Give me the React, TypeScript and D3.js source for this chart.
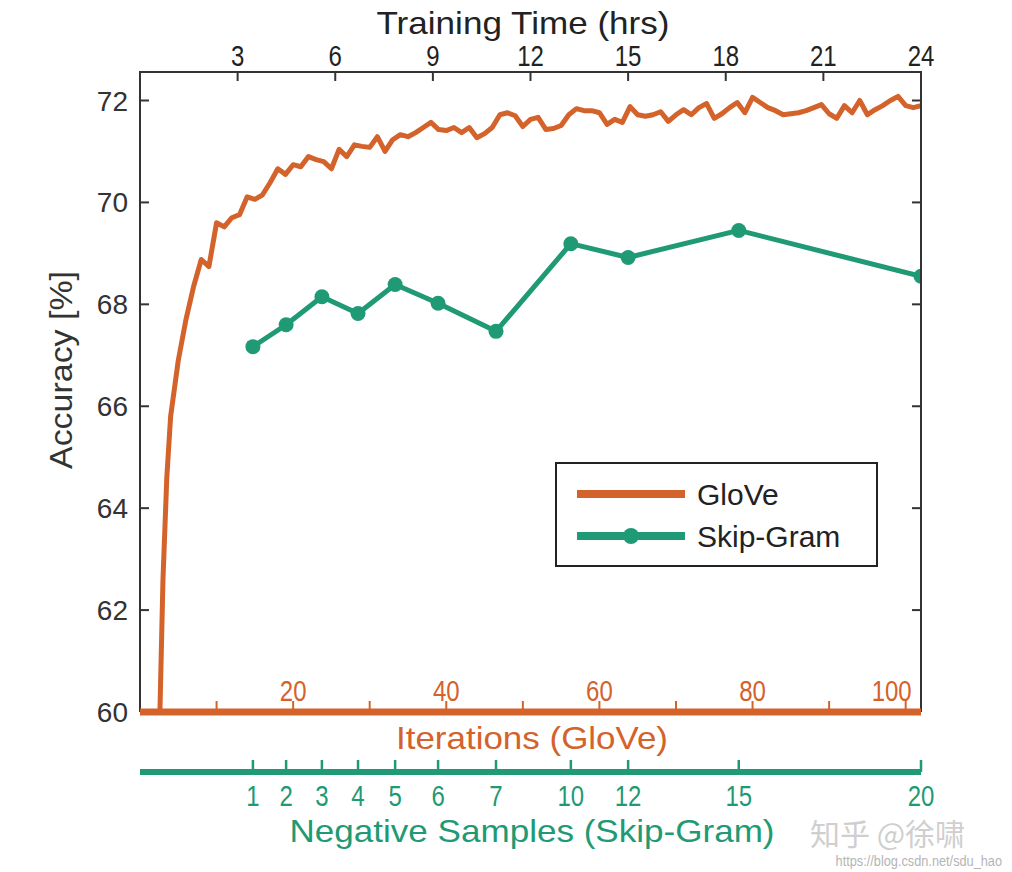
import React from "react";
import * as d3 from "d3";

// ---- data ----
const yTicks = [60, 62, 64, 66, 68, 70, 72];
const hourTicks = [3, 6, 9, 12, 15, 18, 21, 24];
const iterLabelTicks = [20, 40, 60, 80, 100];
const iterMinorTicks = [10, 20, 30, 40, 50, 60, 70, 80, 90, 100];

const gloveIter = [2.6, 2.8, 3, 3.5, 4,
  5, 6, 7, 8, 9, 10, 11, 12, 13, 14, 15, 16, 17, 18, 19, 20,
  21, 22, 23, 24, 25, 26, 27, 28, 29, 30, 31, 32, 33, 34, 35, 36, 37, 38, 39, 40,
  41, 42, 43, 44, 45, 46, 47, 48, 49, 50, 51, 52, 53, 54, 55, 56, 57, 58, 59, 60,
  61, 62, 63, 64, 65, 66, 67, 68, 69, 70, 71, 72, 73, 74, 75, 76, 77, 78, 79, 80,
  81, 82, 83, 84, 85, 86, 87, 88, 89, 90, 91, 92, 93, 94, 95, 96, 97, 98, 99, 100,
  101, 102];
const gloveAcc = [60, 61.3, 62.6, 64.6, 65.8,
  66.9, 67.7, 68.35, 68.88, 68.74, 69.6, 69.52, 69.7, 69.76, 70.11, 70.06, 70.15, 70.39, 70.66, 70.55, 70.74,
  70.7, 70.9, 70.84, 70.8, 70.66, 71.04, 70.9, 71.13, 71.1, 71.08, 71.29, 71.0, 71.23, 71.33, 71.29, 71.37, 71.47, 71.57, 71.43, 71.41,
  71.47, 71.37, 71.47, 71.27, 71.35, 71.47, 71.72, 71.76, 71.7, 71.49, 71.63, 71.67, 71.43, 71.45, 71.51, 71.72, 71.84, 71.8, 71.8, 71.76,
  71.53, 71.63, 71.57, 71.88, 71.72, 71.69, 71.72, 71.78, 71.59, 71.72, 71.82, 71.72, 71.86, 71.94, 71.65, 71.74, 71.86, 71.96, 71.76, 72.06,
  71.96, 71.86, 71.8, 71.72, 71.74, 71.76, 71.8, 71.86, 71.92, 71.74, 71.65, 71.9, 71.76, 72.0, 71.72, 71.82, 71.9, 72.0, 72.08, 71.9,
  71.86, 71.9];

const skipNeg = [1, 2, 3, 4, 5, 6, 7, 10, 12, 15, 20];
const skipHours = [3.47, 4.49, 5.59, 6.7, 7.84, 9.16, 10.94, 13.24, 15.0, 18.4, 24.0];
const skipAcc = [67.17, 67.6, 68.15, 67.82, 68.39, 68.02, 67.47, 69.19, 68.92, 69.45, 68.55];

const ORANGE = "#D4622B";
const TEAL = "#1F9A75";
const SANS = "'Liberation Sans', Arial, sans-serif";

function Narrow({ x, y, size, fill, anchor = "middle", sx = 0.8, children }: any) {
  return (
    <g transform={`translate(${x},${y}) scale(${sx},1)`}>
      <text x={0} y={0} fontFamily={SANS} fontSize={size} fill={fill} textAnchor={anchor}>
        {children}
      </text>
    </g>
  );
}

export default function App() {
  const L = 140, R = 921, T = 72, B = 712;
  const xHrs = d3.scaleLinear().domain([0, 24]).range([L, R]);
  const xIter = d3.scaleLinear().domain([0, 102]).range([L, R]);
  const y = d3.scaleLinear().domain([60, 72]).range([B, 100.5]);

  const glove = gloveIter.map((it, i) => ({ x: xIter(it), y: y(gloveAcc[i]) }));
  const skip = skipHours.map((h, i) => ({ x: xHrs(h), y: y(skipAcc[i]), n: skipNeg[i] }));
  const line = d3.line<{ x: number; y: number }>().x((d) => d.x).y((d) => d.y);

  const teal_y = 772;

  return (
    <svg width={1012} height={872} style={{ position: "absolute", left: 0, top: 0, background: "#fff" }}>
      <defs>
        <clipPath id="plotclip">
          <rect x={L} y={T} width={R - L} height={B - T + 4} />
        </clipPath>
      </defs>

      {/* top title */}
      <text x={523} y={34} fontFamily={SANS} fontSize={32} fill="#222" textAnchor="middle" textLength={293} lengthAdjust="spacingAndGlyphs">
        Training Time (hrs)
      </text>
      {hourTicks.map((h) => (
        <Narrow key={"ht" + h} x={xHrs(h)} y={66} size={30} fill="#222">{h}</Narrow>
      ))}

      {/* y axis labels */}
      {yTicks.map((t) => (
        <text key={"yt" + t} x={128} y={y(t) + 10} fontFamily={SANS} fontSize={28} fill="#333" textAnchor="end">
          {t}
        </text>
      ))}
      <text transform="translate(72,370) rotate(-90)" fontFamily={SANS} fontSize={32} fill="#333" textAnchor="middle" textLength={198} lengthAdjust="spacingAndGlyphs">
        Accuracy [%]
      </text>

      {/* data */}
      <g clipPath="url(#plotclip)">
        <path d={line(glove) || ""} fill="none" stroke={ORANGE} strokeWidth={5} strokeLinejoin="round" />
        <path d={line(skip) || ""} fill="none" stroke={TEAL} strokeWidth={5} strokeLinejoin="round" />
        {skip.map((p, i) => (
          <circle key={"sk" + i} cx={p.x} cy={p.y} r={7.5} fill={TEAL} />
        ))}
      </g>

      {/* box */}
      <path d={`M${L},${B} V${T} H${R} V${B}`} fill="none" stroke="#333" strokeWidth={2} />
      {hourTicks.filter((h) => h < 24).map((h) => (
        <line key={"htk" + h} x1={xHrs(h)} x2={xHrs(h)} y1={T} y2={T + 9} stroke="#333" strokeWidth={2} />
      ))}
      {yTicks.map((t) => (
        <g key={"ytk" + t}>
          <line x1={L} x2={L + 9} y1={y(t)} y2={y(t)} stroke="#333" strokeWidth={2} />
          <line x1={R - 9} x2={R} y1={y(t)} y2={y(t)} stroke="#333" strokeWidth={2} />
        </g>
      ))}

      {/* iterations axis (orange) */}
      <line x1={L} x2={R} y1={B} y2={B} stroke={ORANGE} strokeWidth={7} />
      {iterMinorTicks.map((t) => (
        <line key={"itk" + t} x1={xIter(t)} x2={xIter(t)} y1={B} y2={B - 11} stroke={ORANGE} strokeWidth={2} />
      ))}
      {iterLabelTicks.map((t) => (
        <Narrow key={"itl" + t} x={t === 100 ? xIter(t) - 14 : xIter(t)} y={701} size={30} fill={ORANGE}>{t}</Narrow>
      ))}
      <text x={532} y={749} fontFamily={SANS} fontSize={32} fill={ORANGE} textAnchor="middle" textLength={272} lengthAdjust="spacingAndGlyphs">
        Iterations (GloVe)
      </text>

      {/* negative samples axis (teal) */}
      <line x1={L} x2={R} y1={teal_y} y2={teal_y} stroke={TEAL} strokeWidth={6} />
      {skip.map((p) => (
        <g key={"nt" + p.n}>
          <line x1={p.x} x2={p.x} y1={teal_y} y2={teal_y - 12} stroke={TEAL} strokeWidth={2.5} />
          <Narrow x={p.x} y={806} size={30} fill={TEAL}>{p.n}</Narrow>
        </g>
      ))}
      <text x={532} y={842} fontFamily={SANS} fontSize={32} fill={TEAL} textAnchor="middle" textLength={485} lengthAdjust="spacingAndGlyphs">
        Negative Samples (Skip-Gram)
      </text>

      {/* legend */}
      <rect x={556} y={463} width={321} height={103} fill="#fff" stroke="#222" strokeWidth={2} />
      <line x1={577} x2={685} y1={494} y2={494} stroke={ORANGE} strokeWidth={8} />
      <text x={697} y={505} fontFamily={SANS} fontSize={30} fill="#222">GloVe</text>
      <line x1={577} x2={685} y1={536} y2={536} stroke={TEAL} strokeWidth={8} />
      <circle cx={631} cy={536} r={8} fill={TEAL} />
      <text x={697} y={547} fontFamily={SANS} fontSize={30} fill="#222">Skip-Gram</text>

      {/* watermark */}
      <text x={810} y={845} fontFamily="'Noto Sans CJK SC', sans-serif" fontSize={30} fill="#cfcfcf">知乎 @徐啸</text>
      <g transform="translate(1002,866) scale(0.85,1)">
        <text x={0} y={0} fontFamily={SANS} fontSize={15} fill="#b5b5b5" textAnchor="end">https://blog.csdn.net/sdu_hao</text>
      </g>
    </svg>
  );
}
